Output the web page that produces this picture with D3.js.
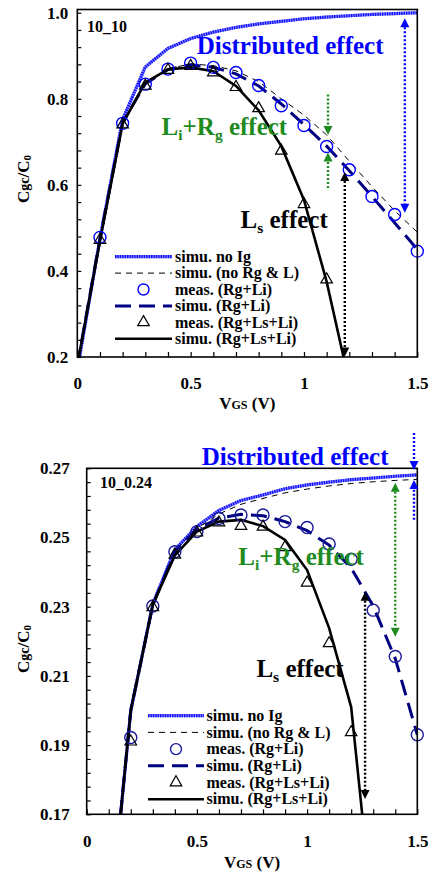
<!DOCTYPE html>
<html>
<head>
<meta charset="utf-8">
<script src="https://cdn.jsdelivr.net/npm/d3@7"></script>
<style>
body { margin: 0; background: #fff; }
svg { display: block; font-family: "Liberation Serif", "Times New Roman", serif; font-weight: bold; }
</style>
</head>
<body>
<div id="chart"></div>
<script>
'use strict';

// gate voltage grid shared by every curve
var vgs = [0, 0.1, 0.2, 0.3, 0.4, 0.5, 0.6, 0.7, 0.8, 0.9, 1.0, 1.1, 1.2, 1.3, 1.4, 1.5];

// ---- panel 10_10 ----
var topNoIg       = [0.17, 0.475, 0.752, 0.874, 0.917, 0.94, 0.955, 0.966, 0.974, 0.98, 0.986, 0.99, 0.993, 0.996, 0.998, 1.0];
var topNoRgL      = [0.18, 0.475, 0.745, 0.836, 0.87, 0.881, 0.877, 0.865, 0.84, 0.80, 0.762, 0.716, 0.655, 0.596, 0.54, 0.49];
var topSimuRgLi   = [0.18, 0.475, 0.745, 0.835, 0.868, 0.879, 0.873, 0.858, 0.83, 0.788, 0.74, 0.69, 0.633, 0.573, 0.512, 0.45];
var topSimuRgLsLi = [0.18, 0.47, 0.742, 0.838, 0.868, 0.873, 0.864, 0.83, 0.773, 0.69, 0.565, 0.375, 0.14, null, null, null];
var topMeasRgLi   = [null, 0.478, 0.743, 0.834, 0.869, 0.883, 0.873, 0.861, 0.831, 0.784, 0.738, 0.689, 0.635, 0.573, 0.531, 0.446];
var topMeasRgLsLi = [null, 0.472, 0.74, 0.83, 0.867, 0.876, 0.861, 0.827, 0.778, 0.679, 0.555, 0.38, null, null, null, null];

// ---- panel 10_0.24 ----
var botNoIg       = [null, 0.135, 0.2, 0.2308, 0.2465, 0.2532, 0.2578, 0.2607, 0.2623, 0.2641, 0.2652, 0.266, 0.2667, 0.2672, 0.2677, 0.2681];
var botNoRgL      = [null, 0.135, 0.2, 0.2306, 0.2462, 0.2526, 0.2568, 0.2596, 0.2613, 0.2629, 0.264, 0.2649, 0.2656, 0.2661, 0.2665, 0.2668];
var botSimuRgLi   = [null, 0.135, 0.2, 0.2305, 0.246, 0.2524, 0.2556, 0.2567, 0.2563, 0.2546, 0.252, 0.2478, 0.2412, 0.2302, 0.215, 0.193];
var botSimuRgLsLi = [null, 0.135, 0.2, 0.2306, 0.2448, 0.2517, 0.2546, 0.2551, 0.2533, 0.2493, 0.2406, 0.2238, 0.201, 0.139, null, null];
var botMeasRgLi   = [null, null, 0.1922, 0.2302, 0.2459, 0.2517, 0.2555, 0.2565, 0.2565, 0.2546, 0.2529, 0.2481, 0.2437, 0.229, 0.2156, 0.193];
var botMeasRgLsLi = [null, null, 0.191, 0.2298, 0.245, 0.2514, 0.2543, 0.2533, 0.2531, 0.2472, 0.2369, 0.2194, 0.1937, null, null, null];

// tick labels
var xTickLabels = [0, 0.5, 1, 1.5];
var topYTickLabels = [0.2, 0.4, 0.6, 0.8, 1.0];
var botYTickLabels = [0.17, 0.19, 0.21, 0.23, 0.25, 0.27];

var legendNames = ['simu. no Ig', 'simu. (no Rg & L)', 'meas. (Rg+Li)',
                   'simu. (Rg+Li)', 'meas. (Rg+Ls+Li)', 'simu. (Rg+Ls+Li)'];

var BLUE = '#0000ff', GREEN = '#1f8b1f', NAVY = '#000080';
var SERIF = '"Liberation Serif", "Times New Roman", serif';

var distributed = [{t: 'Distributed effect'}];
var liRg = [{t: 'L'}, {t: 'i', sub: true}, {t: '+R'}, {t: 'g', sub: true}, {t: ' effect'}];
var ls = [{t: 'L'}, {t: 's', sub: true}, {t: ' effect'}];

var panels = [
    {
        name: '10_10',
        curves: [topNoIg, topNoRgL, topSimuRgLi, topSimuRgLsLi],
        circles: topMeasRgLi, triangles: topMeasRgLsLi,
        yDomain: [0.2, 1.0075], yTicks: topYTickLabels, yMinor: 0.04, yFormat: '.1f',
        box: {left: 77.3, right: 417.3, top: 9.5, bottom: 357},
        circleColor: BLUE,
        labelAt: [0.043, 0.9545],
        texts: [
            {x: 0.527, y: 0.9035, color: BLUE, parts: distributed},
            {x: 0.372, y: 0.7163, color: GREEN, parts: liRg},
            {x: 0.72, y: 0.5005, color: '#000', parts: ls}
        ],
        arrows: [
            {x: 1.445, y0: 0.987, y1: 0.535, h0: true, h1: true, color: BLUE},
            {x: 1.106, y0: 0.81, y1: 0.716, h0: false, h1: true, color: GREEN},
            {x: 1.106, y0: 0.593, y1: 0.675, h0: false, h1: true, color: GREEN},
            {x: 1.18, y0: 0.63, y1: 0.201, h0: true, h1: true, color: '#000'}
        ],
        legend: {x0: 115, x1: 172, tx: 175, y: 256.7, dy: 16.4},
        yTitle: {x: 29, y: 179}, xTitleY: 409, yLabelPad: 9, xLabelPad: 20
    },
    {
        name: '10_0.24',
        curves: [botNoIg, botNoRgL, botSimuRgLi, botSimuRgLsLi],
        circles: botMeasRgLi, triangles: botMeasRgLsLi,
        yDomain: [0.17, 0.27], yTicks: botYTickLabels, yMinor: 0.004, yFormat: '.2f',
        box: {left: 86.7, right: 417.3, top: 468.3, bottom: 814.3},
        circleColor: '#1a1a9a',
        labelAt: [0.06, 0.2643],
        texts: [
            {x: 0.522, y: 0.271, color: BLUE, parts: distributed},
            {x: 0.688, y: 0.2421, color: GREEN, parts: liRg},
            {x: 0.77, y: 0.2097, color: '#000', parts: ls}
        ],
        arrows: [
            {x: 1.485, y0: 0.2802, y1: 0.2695, h0: false, h1: true, color: BLUE},
            {x: 1.485, y0: 0.2551, y1: 0.2666, h0: false, h1: true, color: BLUE},
            {x: 1.4, y0: 0.2658, y1: 0.2213, h0: true, h1: true, color: GREEN},
            {x: 1.263, y0: 0.2343, y1: 0.1744, h0: true, h1: true, color: '#000'}
        ],
        legend: {x0: 148, x1: 204, tx: 206.5, y: 715.7, dy: 16.7},
        yTitle: {x: 29, y: 649}, xTitleY: 868, yLabelPad: 17, xLabelPad: 21
    }
];

var svg = d3.select('#chart').append('svg')
    .attr('width', 431)
    .attr('height', 875);

function richText (sel, parts, size) {
    parts.forEach(function (p, i) {
        var prevSub = i > 0 && parts[i - 1].sub;
        sel.append('tspan')
            .attr('font-size', p.sub ? size * 0.62 : size)
            .attr('dy', p.sub ? size * 0.2 : (prevSub ? -size * 0.2 : null))
            .text(p.t);
    });
}

// two-layer textured blue stroke used for "simu. no Ig"
function noIgStroke (g, d) {
    g.append('path').attr('d', d)
        .attr('fill', 'none').attr('stroke', '#8c8cff').attr('stroke-width', 3.2);
    g.append('path').attr('d', d)
        .attr('fill', 'none').attr('stroke', '#1010ff').attr('stroke-width', 3.2)
        .attr('stroke-dasharray', '1.4,1');
}

var curveStyles = [
    null,
    {stroke: '#000', width: 1, dash: '6,5'},
    {stroke: NAVY, width: 3, dash: '16,8'},
    {stroke: '#000', width: 2.6, dash: null}
];

var triangle = d3.symbol().type(d3.symbolTriangle).size(58);

function drawArrow (g, x, y, a) {
    var px = x(a.x), p0 = y(a.y0), p1 = y(a.y1),
        dir = p1 > p0 ? 1 : -1,
        head = 9, half = 4.5;
    g.append('line')
        .attr('x1', px).attr('x2', px)
        .attr('y1', a.h0 ? p0 + dir * head : p0)
        .attr('y2', a.h1 ? p1 - dir * head : p1)
        .attr('stroke', a.color)
        .attr('stroke-width', 2.4)
        .attr('stroke-dasharray', '2,2');
    [[a.h0, p0, -dir], [a.h1, p1, dir]].forEach(function (h) {
        if (!h[0]) return;
        var tip = h[1], base = tip - h[2] * head;
        g.append('path')
            .attr('d', 'M' + px + ',' + tip + 'L' + (px - half) + ',' + base + 'L' + (px + half) + ',' + base + 'Z')
            .attr('fill', a.color);
    });
}

function styleAxisText (s) {
    s.select('.domain').remove();
    s.attr('font-family', SERIF).attr('font-size', 17);
    s.selectAll('text').attr('fill', '#000');
}

function drawPanel (p, idx) {
    var b = p.box;
    var x = d3.scaleLinear().domain([0, 1.5]).range([b.left, b.right]);
    var y = d3.scaleLinear().domain(p.yDomain).range([b.bottom, b.top]);
    var g = svg.append('g').attr('class', 'panel');

    var clipId = 'clip' + idx;
    g.append('clipPath').attr('id', clipId)
        .append('rect')
        .attr('x', b.left).attr('y', b.top)
        .attr('width', b.right - b.left).attr('height', b.bottom - b.top);

    // minor ticks, pointing inward
    var xMinor = d3.range(0, 1.5001, 0.1);
    var yMinor = d3.range(p.yDomain[0], p.yTicks[p.yTicks.length - 1] + 1e-9, p.yMinor);

    g.append('g')
        .attr('transform', 'translate(0,' + b.bottom + ')')
        .call(d3.axisBottom(x).tickValues(xMinor).tickSize(-5).tickFormat(''))
        .call(function (s) { s.select('.domain').remove(); })
        .selectAll('line').attr('stroke-width', 1.2);

    g.append('g')
        .attr('transform', 'translate(' + b.left + ',0)')
        .call(d3.axisLeft(y).tickValues(yMinor).tickSize(-4).tickFormat(''))
        .call(function (s) { s.select('.domain').remove(); })
        .selectAll('line').attr('stroke-width', 1.2);

    // tick labels
    g.append('g')
        .attr('transform', 'translate(0,' + b.bottom + ')')
        .call(d3.axisBottom(x).tickValues(xTickLabels).tickSize(0).tickPadding(p.xLabelPad)
            .tickFormat(function (d) { return String(d); }))
        .call(styleAxisText);

    g.append('g')
        .attr('transform', 'translate(' + b.left + ',0)')
        .call(d3.axisLeft(y).tickValues(p.yTicks).tickSize(0).tickPadding(p.yLabelPad)
            .tickFormat(d3.format(p.yFormat)))
        .call(styleAxisText);

    // axis titles
    var xt = g.append('text')
        .attr('x', (b.left + b.right) / 2)
        .attr('y', p.xTitleY)
        .attr('text-anchor', 'middle');
    xt.append('tspan').attr('font-size', 17).text('V');
    xt.append('tspan').attr('font-size', 12).text('GS');
    xt.append('tspan').attr('font-size', 17).text(' (V)');

    var yt = g.append('text')
        .attr('transform', 'translate(' + p.yTitle.x + ',' + p.yTitle.y + ') rotate(-90)')
        .attr('text-anchor', 'middle');
    yt.append('tspan').attr('font-size', 17).text('C');
    yt.append('tspan').attr('font-size', 14).text('gc');
    yt.append('tspan').attr('font-size', 17).text('/C');
    yt.append('tspan').attr('font-size', 11).attr('dy', 2).text('0');

    // curves
    var plot = g.append('g').attr('clip-path', 'url(#' + clipId + ')');
    var line = d3.line()
        .defined(function (d) { return d[1] !== null; })
        .x(function (d) { return x(d[0]); })
        .y(function (d) { return y(d[1]); });

    p.curves.forEach(function (vals, i) {
        var d = line(vgs.map(function (v, k) { return [v, vals[k]]; }));
        if (i === 0) { noIgStroke(plot, d); return; }
        var st = curveStyles[i];
        plot.append('path')
            .attr('d', d)
            .attr('fill', 'none')
            .attr('stroke', st.stroke)
            .attr('stroke-width', st.width)
            .attr('stroke-dasharray', st.dash);
    });

    // measured points
    var pts = vgs.map(function (v, k) { return [v, p.circles[k]]; })
        .filter(function (d) { return d[1] !== null; });
    g.selectAll('circle.meas').data(pts).enter().append('circle')
        .attr('class', 'meas')
        .attr('cx', function (d) { return x(d[0]); })
        .attr('cy', function (d) { return y(d[1]); })
        .attr('r', 6)
        .attr('fill', 'none')
        .attr('stroke', p.circleColor)
        .attr('stroke-width', 1.4);

    var tris = vgs.map(function (v, k) { return [v, p.triangles[k]]; })
        .filter(function (d) { return d[1] !== null; });
    g.selectAll('path.tri').data(tris).enter().append('path')
        .attr('class', 'tri')
        .attr('d', triangle)
        .attr('transform', function (d) { return 'translate(' + x(d[0]) + ',' + y(d[1]) + ')'; })
        .attr('fill', 'none')
        .attr('stroke', '#000')
        .attr('stroke-width', 1.2);

    // frame
    g.append('rect')
        .attr('x', b.left).attr('y', b.top)
        .attr('width', b.right - b.left).attr('height', b.bottom - b.top)
        .attr('fill', 'none')
        .attr('stroke', '#000')
        .attr('stroke-width', 1.6);

    // annotations
    p.arrows.forEach(function (a) { drawArrow(g, x, y, a); });

    p.texts.forEach(function (t) {
        var el = g.append('text')
            .attr('x', x(t.x)).attr('y', y(t.y))
            .attr('fill', t.color);
        richText(el, t.parts, 25);
    });

    g.append('text')
        .attr('x', x(p.labelAt[0])).attr('y', y(p.labelAt[1]))
        .attr('font-size', 16)
        .text(p.name);

    // legend
    var L = p.legend;
    var lg = g.append('g').attr('class', 'legend');
    legendNames.forEach(function (name, i) {
        var ry = L.y + i * L.dy, mid = (L.x0 + L.x1) / 2;
        var seg = 'M' + L.x0 + ',' + ry + 'H' + L.x1;
        if (i === 0) noIgStroke(lg, seg);
        else if (i === 2) {
            lg.append('circle').attr('cx', mid).attr('cy', ry).attr('r', 5.5)
                .attr('fill', 'none').attr('stroke', p.circleColor).attr('stroke-width', 1.4);
        } else if (i === 4) {
            lg.append('path').attr('d', triangle)
                .attr('transform', 'translate(' + mid + ',' + ry + ')')
                .attr('fill', 'none').attr('stroke', '#000').attr('stroke-width', 1.2);
        } else {
            var st = curveStyles[i === 1 ? 1 : (i === 3 ? 2 : 3)];
            lg.append('path').attr('d', seg)
                .attr('fill', 'none')
                .attr('stroke', st.stroke)
                .attr('stroke-width', st.width)
                .attr('stroke-dasharray', st.dash);
        }
        lg.append('text')
            .attr('x', L.tx).attr('y', ry)
            .attr('dy', '0.33em')
            .attr('font-size', 16)
            .text(name);
    });
}

panels.forEach(drawPanel);
</script>
</body>
</html>
